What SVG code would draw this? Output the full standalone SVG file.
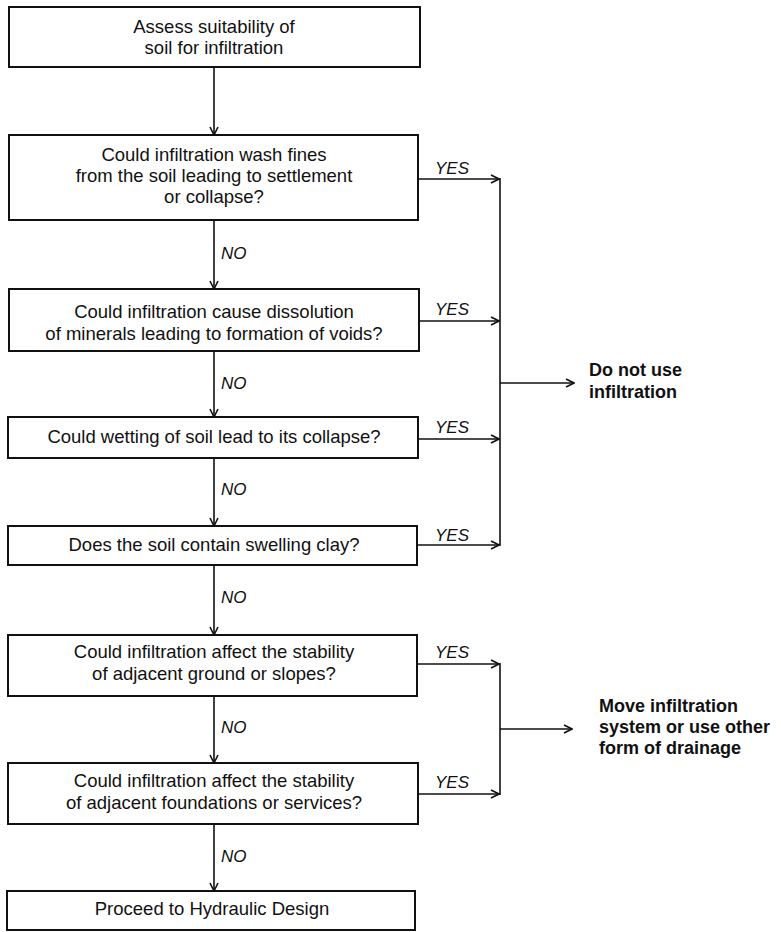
<svg xmlns="http://www.w3.org/2000/svg" width="781" height="932" viewBox="0 0 781 932">
<style>
.box{fill:#fff;stroke:#111;stroke-width:2}
.t{font-family:"Liberation Sans",Arial,sans-serif;font-size:18.5px;fill:#111;text-anchor:middle}
.lbl{font-family:"Liberation Sans",Arial,sans-serif;font-size:17px;font-style:italic;fill:#111}
.out{font-family:"Liberation Sans",Arial,sans-serif;font-size:18px;font-weight:bold;fill:#111}
.ln{fill:none;stroke:#111;stroke-width:1.6}
</style>
<defs>
<marker id="ah" markerWidth="10" markerHeight="10" refX="9" refY="5" orient="auto" markerUnits="userSpaceOnUse">
<path d="M1,1 L9,5 L1,9" fill="none" stroke="#111" stroke-width="1.6"/>
</marker>
</defs>
<rect width="781" height="932" fill="#fff"/>
<g id="n1"><rect class="box" x="9" y="7" width="411" height="60"/>
<text class="t" x="214" y="33">Assess suitability of</text>
<text class="t" x="214" y="54">soil for infiltration</text></g>
<g id="n2"><rect class="box" x="9" y="135" width="409" height="85"/>
<text class="t" x="214" y="161">Could infiltration wash fines</text>
<text class="t" x="214" y="182">from the soil leading to settlement</text>
<text class="t" x="214" y="203">or collapse?</text></g>
<g id="n3"><rect class="box" x="9" y="289" width="410" height="62"/>
<text class="t" x="214" y="318">Could infiltration cause dissolution</text>
<text class="t" x="214" y="340">of minerals leading to formation of voids?</text></g>
<g id="n4"><rect class="box" x="8" y="417" width="410" height="41"/>
<text class="t" x="214" y="443">Could wetting of soil lead to its collapse?</text></g>
<g id="n5"><rect class="box" x="8" y="526" width="409" height="39"/>
<text class="t" x="214" y="551">Does the soil contain swelling clay?</text></g>
<g id="n6"><rect class="box" x="8" y="635" width="409" height="61"/>
<text class="t" x="214" y="658">Could infiltration affect the stability</text>
<text class="t" x="214" y="680">of adjacent ground or slopes?</text></g>
<g id="n7"><rect class="box" x="8" y="763" width="410" height="61"/>
<text class="t" x="214" y="787">Could infiltration affect the stability</text>
<text class="t" x="214" y="809">of adjacent foundations or services?</text></g>
<g id="n8"><rect class="box" x="7" y="891" width="408" height="39"/>
<text class="t" x="212" y="915">Proceed to Hydraulic Design</text></g>
<g id="n9"><text class="out" x="589" y="376">Do not use</text>
<text class="out" x="589" y="398">infiltration</text></g>
<g id="n10"><text class="out" x="599" y="712">Move infiltration</text>
<text class="out" x="599" y="733">system or use other</text>
<text class="out" x="599" y="754">form of drainage</text></g>
<g id="connectors">
<line class="ln" x1="214" y1="67" x2="214" y2="135" marker-end="url(#ah)"/>
<line class="ln" x1="214" y1="220" x2="214" y2="289" marker-end="url(#ah)"/>
<line class="ln" x1="214" y1="351" x2="214" y2="417" marker-end="url(#ah)"/>
<line class="ln" x1="214" y1="458" x2="214" y2="526" marker-end="url(#ah)"/>
<line class="ln" x1="214" y1="565" x2="214" y2="635" marker-end="url(#ah)"/>
<line class="ln" x1="214" y1="696" x2="214" y2="763" marker-end="url(#ah)"/>
<line class="ln" x1="214" y1="824" x2="214" y2="891" marker-end="url(#ah)"/>
<line class="ln" x1="418" y1="179" x2="499" y2="179" marker-end="url(#ah)"/>
<line class="ln" x1="419" y1="321" x2="499" y2="321" marker-end="url(#ah)"/>
<line class="ln" x1="418" y1="439" x2="499" y2="439" marker-end="url(#ah)"/>
<line class="ln" x1="417" y1="545" x2="499" y2="545" marker-end="url(#ah)"/>
<line class="ln" x1="500" y1="178" x2="500" y2="546"/>
<line class="ln" x1="500" y1="383" x2="574" y2="383" marker-end="url(#ah)"/>
<line class="ln" x1="417" y1="664" x2="499" y2="664" marker-end="url(#ah)"/>
<line class="ln" x1="418" y1="794" x2="499" y2="794" marker-end="url(#ah)"/>
<line class="ln" x1="500" y1="663" x2="500" y2="795"/>
<line class="ln" x1="500" y1="729" x2="572" y2="729" marker-end="url(#ah)"/>
<text class="lbl" x="435" y="174">YES</text>
<text class="lbl" x="435" y="315">YES</text>
<text class="lbl" x="435" y="433">YES</text>
<text class="lbl" x="435" y="541">YES</text>
<text class="lbl" x="435" y="658">YES</text>
<text class="lbl" x="435" y="788">YES</text>
<text class="lbl" x="221" y="259">NO</text>
<text class="lbl" x="221" y="389">NO</text>
<text class="lbl" x="221" y="495">NO</text>
<text class="lbl" x="221" y="603">NO</text>
<text class="lbl" x="221" y="733">NO</text>
<text class="lbl" x="221" y="862">NO</text>
</g>
</svg>
